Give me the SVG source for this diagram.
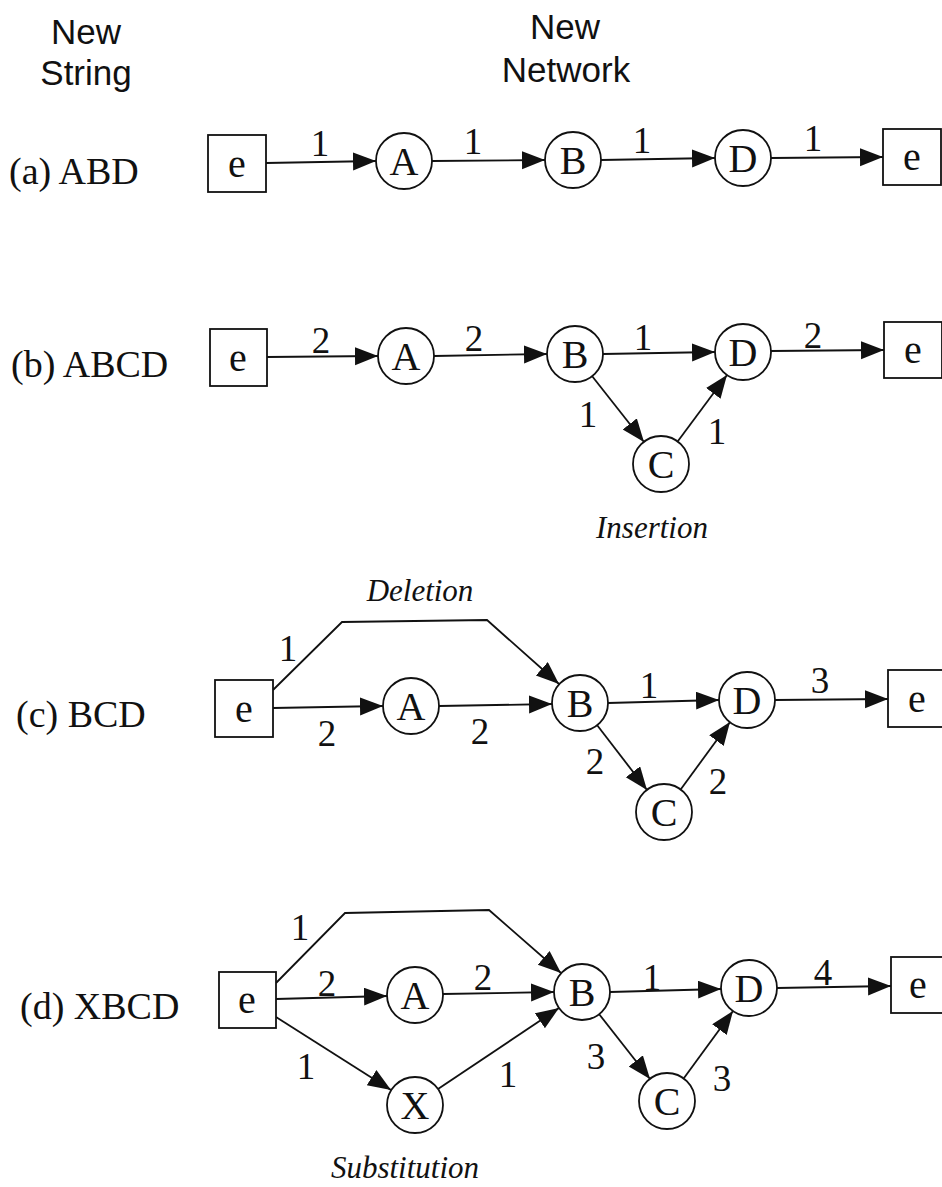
<svg xmlns="http://www.w3.org/2000/svg" width="942" height="1187" viewBox="0 0 942 1187">
<defs>
<marker id="arr" markerUnits="userSpaceOnUse" markerWidth="26" markerHeight="20" refX="23" refY="9" orient="auto">
<path d="M0,0 L23,9 L0,18 z" fill="#111"/>
</marker>
<style>
.hdr{font-family:"Liberation Sans",Arial,sans-serif;font-size:35px;fill:#111;text-anchor:middle}
.row{font-family:"Liberation Serif","Times New Roman",serif;font-size:38px;fill:#111}
.nl{font-family:"Liberation Serif","Times New Roman",serif;font-size:40px;fill:#111;text-anchor:middle}
.el{font-family:"Liberation Serif","Times New Roman",serif;font-size:37px;fill:#111;text-anchor:middle}
.it{font-family:"Liberation Serif","Times New Roman",serif;font-size:31px;font-style:italic;fill:#111;text-anchor:middle}
.shape{fill:#fff;stroke:#111;stroke-width:1.8}
.edge{fill:none;stroke:#111;stroke-width:1.8;marker-end:url(#arr)}
</style>
</defs>
<rect width="942" height="1187" fill="#fff"/>

<g id="headers">
<text class="hdr" x="86" y="44">New</text>
<text class="hdr" x="86" y="85">String</text>
<text class="hdr" x="565" y="39">New</text>
<text class="hdr" x="566" y="82">Network</text>
</g>

<g id="row-labels">
<text class="row" x="9" y="184">(a) ABD</text>
<text class="row" x="11" y="377">(b) ABCD</text>
<text class="row" x="16" y="727">(c) BCD</text>
<text class="row" x="20" y="1019">(d) XBCD</text>
</g>

<g id="annotations">
<text class="it" x="652" y="538">Insertion</text>
<text class="it" x="420" y="601">Deletion</text>
<text class="it" x="405" y="1178">Substitution</text>
</g>

<g id="connectors">
<!-- row a -->
<line class="edge" x1="266" y1="163" x2="376" y2="161"/>
<line class="edge" x1="432" y1="161" x2="545" y2="160"/>
<line class="edge" x1="601" y1="160" x2="715" y2="158"/>
<line class="edge" x1="771" y1="158" x2="883" y2="157"/>
<!-- row b -->
<line class="edge" x1="267" y1="357" x2="378" y2="356"/>
<line class="edge" x1="434" y1="356" x2="547" y2="354"/>
<line class="edge" x1="603" y1="354" x2="715" y2="352"/>
<line class="edge" x1="771" y1="351" x2="884" y2="350"/>
<line class="edge" x1="592" y1="376" x2="644" y2="442"/>
<line class="edge" x1="678" y1="441" x2="727" y2="375"/>
<!-- row c -->
<polyline class="edge" points="273,690 342,622 487,620 559,684"/>
<line class="edge" x1="273" y1="708" x2="383" y2="706"/>
<line class="edge" x1="439" y1="706" x2="552" y2="704"/>
<line class="edge" x1="608" y1="703" x2="719" y2="700"/>
<line class="edge" x1="775" y1="700" x2="888" y2="699"/>
<line class="edge" x1="597" y1="725" x2="647" y2="790"/>
<line class="edge" x1="681" y1="789" x2="730" y2="722"/>
<!-- row d -->
<polyline class="edge" points="276,983 345,913 489,910 561,973"/>
<line class="edge" x1="276" y1="999" x2="387" y2="996"/>
<line class="edge" x1="443" y1="994" x2="554" y2="992"/>
<line class="edge" x1="276" y1="1017" x2="391" y2="1090"/>
<line class="edge" x1="438" y1="1089" x2="559" y2="1008"/>
<line class="edge" x1="610" y1="992" x2="721" y2="989"/>
<line class="edge" x1="777" y1="988" x2="891" y2="986"/>
<line class="edge" x1="599" y1="1014" x2="650" y2="1079"/>
<line class="edge" x1="684" y1="1078" x2="733" y2="1011"/>
</g>

<g id="edge-labels">
<text class="el" x="320" y="156">1</text>
<text class="el" x="473" y="154">1</text>
<text class="el" x="642" y="153">1</text>
<text class="el" x="813" y="151">1</text>

<text class="el" x="321" y="353">2</text>
<text class="el" x="474" y="351">2</text>
<text class="el" x="643" y="350">1</text>
<text class="el" x="813" y="348">2</text>
<text class="el" x="588" y="427">1</text>
<text class="el" x="717" y="444">1</text>

<text class="el" x="288" y="661">1</text>
<text class="el" x="327" y="746">2</text>
<text class="el" x="480" y="744">2</text>
<text class="el" x="649" y="698">1</text>
<text class="el" x="820" y="693">3</text>
<text class="el" x="595" y="774">2</text>
<text class="el" x="718" y="794">2</text>

<text class="el" x="300" y="940">1</text>
<text class="el" x="327" y="996">2</text>
<text class="el" x="483" y="990">2</text>
<text class="el" x="306" y="1079">1</text>
<text class="el" x="508" y="1087">1</text>
<text class="el" x="652" y="990">1</text>
<text class="el" x="823" y="985">4</text>
<text class="el" x="596" y="1069">3</text>
<text class="el" x="722" y="1091">3</text>
</g>

<!-- row a nodes -->
<g id="a-e-start"><rect class="shape" x="208" y="135" width="58" height="57"/><text class="nl" x="237" y="177">e</text></g>
<g id="a-A"><circle class="shape" cx="404" cy="161" r="28"/><text class="nl" x="404" y="175">A</text></g>
<g id="a-B"><circle class="shape" cx="573" cy="160" r="28"/><text class="nl" x="573" y="174">B</text></g>
<g id="a-D"><circle class="shape" cx="743" cy="158" r="28"/><text class="nl" x="743" y="172">D</text></g>
<g id="a-e-end"><rect class="shape" x="883" y="129" width="58" height="56"/><text class="nl" x="912" y="170">e</text></g>

<!-- row b nodes -->
<g id="b-e-start"><rect class="shape" x="210" y="329" width="57" height="57"/><text class="nl" x="238" y="371">e</text></g>
<g id="b-A"><circle class="shape" cx="406" cy="356" r="28"/><text class="nl" x="406" y="370">A</text></g>
<g id="b-B"><circle class="shape" cx="575" cy="354" r="28"/><text class="nl" x="575" y="368">B</text></g>
<g id="b-D"><circle class="shape" cx="743" cy="352" r="28"/><text class="nl" x="743" y="366">D</text></g>
<g id="b-C"><circle class="shape" cx="661" cy="464" r="28"/><text class="nl" x="661" y="478">C</text></g>
<g id="b-e-end"><rect class="shape" x="884" y="322" width="58" height="56"/><text class="nl" x="913" y="363">e</text></g>

<!-- row c nodes -->
<g id="c-e-start"><rect class="shape" x="215" y="680" width="58" height="57"/><text class="nl" x="244" y="722">e</text></g>
<g id="c-A"><circle class="shape" cx="411" cy="706" r="28"/><text class="nl" x="411" y="720">A</text></g>
<g id="c-B"><circle class="shape" cx="580" cy="703" r="28"/><text class="nl" x="580" y="717">B</text></g>
<g id="c-D"><circle class="shape" cx="747" cy="700" r="28"/><text class="nl" x="747" y="714">D</text></g>
<g id="c-C"><circle class="shape" cx="664" cy="812" r="28"/><text class="nl" x="664" y="826">C</text></g>
<g id="c-e-end"><rect class="shape" x="888" y="670" width="58" height="57"/><text class="nl" x="917" y="712">e</text></g>

<!-- row d nodes -->
<g id="d-e-start"><rect class="shape" x="219" y="972" width="57" height="56"/><text class="nl" x="247" y="1013">e</text></g>
<g id="d-A"><circle class="shape" cx="415" cy="995" r="28"/><text class="nl" x="415" y="1009">A</text></g>
<g id="d-X"><circle class="shape" cx="415" cy="1105" r="28"/><text class="nl" x="415" y="1119">X</text></g>
<g id="d-B"><circle class="shape" cx="582" cy="992" r="28"/><text class="nl" x="582" y="1006">B</text></g>
<g id="d-D"><circle class="shape" cx="749" cy="988" r="28"/><text class="nl" x="749" y="1002">D</text></g>
<g id="d-C"><circle class="shape" cx="667" cy="1101" r="28"/><text class="nl" x="667" y="1115">C</text></g>
<g id="d-e-end"><rect class="shape" x="891" y="957" width="58" height="56"/><text class="nl" x="918" y="998">e</text></g>
</svg>
